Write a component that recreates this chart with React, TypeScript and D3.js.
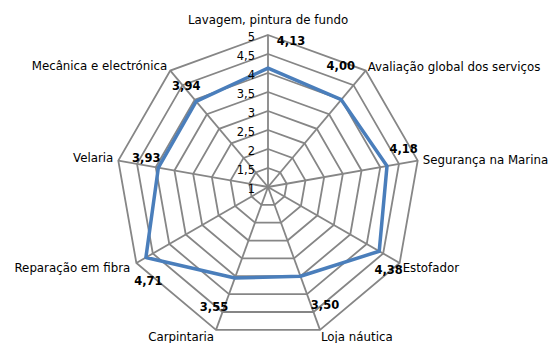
import React from 'react';
import * as d3 from 'd3';

const categories = [
  'Lavagem, pintura de fundo',
  'Avaliação global dos serviços',
  'Segurança na Marina',
  'Estofador',
  'Loja náutica',
  'Carpintaria',
  'Reparação em fibra',
  'Velaria',
  'Mecânica e electrónica',
];
const values = [4.13, 4.0, 4.18, 4.38, 3.5, 3.55, 4.71, 3.93, 3.94];
const ringTicks = [1, 1.5, 2, 2.5, 3, 3.5, 4, 4.5, 5];

const W = 548;
const H = 343;
const cx = 268;
const cy = 187;
const R = 152;

// label placement per axis: anchor + offset from the outer vertex
const catLabelPos: [string, number, number][] = [
  ['middle', 0, -15],
  ['start', 2, -3],
  ['start', 5, 0],
  ['start', 3, 5],
  ['start', 1, 8],
  ['end', -2, 8],
  ['end', -6, 5],
  ['end', -5, -2],
  ['end', -3, -4],
];
const valLabelPos: [number, number][] = [
  [23, 6],
  [-25, -4],
  [-14, -11],
  [-11, 7],
  [5, -24],
  [-2, -22],
  [12, 18],
  [28, -2],
  [16, 16],
];

const fmt = (v: number) => v.toFixed(2).replace('.', ',');

export default function App() {
  const r = d3.scaleLinear().domain([1, 5]).range([0, R]);
  const angle = (i: number) => (i * 2 * Math.PI) / categories.length;
  const pt = (i: number, v: number): [number, number] => [
    cx + r(v) * Math.sin(angle(i)),
    cy - r(v) * Math.cos(angle(i)),
  ];
  const closed = d3.line().curve(d3.curveLinearClosed);
  const font = '"DejaVu Sans", Verdana, sans-serif';

  return (
    <div style={{ position: 'fixed', left: 0, top: 0 }}>
      <svg width={W} height={H} style={{ display: 'block', background: '#fff' }} fontFamily={font}>
        {ringTicks.slice(1).map((t) => (
          <path
            key={t}
            d={closed(categories.map((_, i) => pt(i, t))) || ''}
            fill="none"
            stroke="#868686"
            strokeWidth={1.8}
          />
        ))}
        {categories.map((_, i) => {
          const [x, y] = pt(i, 5);
          return <line key={i} x1={cx} y1={cy} x2={x} y2={y} stroke="#868686" strokeWidth={1.8} />;
        })}
        <path
          d={closed(values.map((v, i) => pt(i, v))) || ''}
          fill="none"
          stroke="#4a7ebb"
          strokeWidth={3.5}
          strokeLinejoin="round"
        />
        {ringTicks.map((t) => (
          <text
            key={t}
            x={cx - 13}
            y={cy - r(t) + 2}
            textAnchor="end"
            dominantBaseline="middle"
            fontSize={11.5}
            fill="#000"
          >
            {String(t).replace('.', ',')}
          </text>
        ))}
        {categories.map((c, i) => {
          const [x, y] = pt(i, 5);
          const [anchor, dx, dy] = catLabelPos[i];
          return (
            <text
              key={c}
              x={x + dx}
              y={y + dy}
              textAnchor={anchor}
              dominantBaseline="middle"
              fontSize={11.8}
              fill="#000"
            >
              {c}
            </text>
          );
        })}
        {values.map((v, i) => {
          const [x, y] = pt(i, 5);
          const [dx, dy] = valLabelPos[i];
          return (
            <text
              key={i}
              x={x + dx}
              y={y + dy}
              textAnchor="middle"
              dominantBaseline="middle"
              fontSize={11.5}
              fontWeight="bold"
              fill="#000"
            >
              {fmt(v)}
            </text>
          );
        })}
      </svg>
    </div>
  );
}
